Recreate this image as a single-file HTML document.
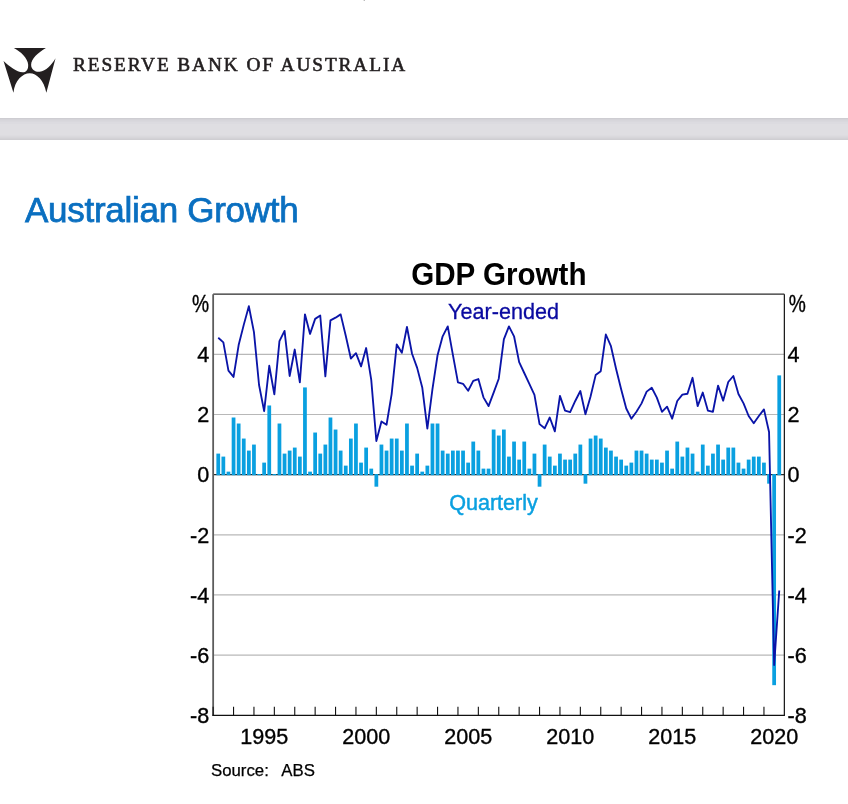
<!DOCTYPE html>
<html><head><meta charset="utf-8"><title>Australian Growth</title>
<style>
html,body{margin:0;padding:0;background:#fff;}
body{width:848px;height:804px;position:relative;overflow:hidden;}
.logo{position:absolute;left:0;top:42px;}
.brand{position:absolute;left:72.5px;top:53px;font-family:"Liberation Serif",serif;font-size:19.3px;letter-spacing:1.92px;color:#231f20;-webkit-text-stroke:0.6px #231f20;white-space:nowrap;line-height:24px;}
.band{position:absolute;left:0;top:118px;width:848px;height:22px;background:linear-gradient(#cecdd2 0px,#cecdd2 1px,#d4d3d8 1px,#d4d3d8 2px,#d7d6db 2px,#d7d6db 3px,#d9d8dd 3px,#d9d8dd 4px,#dcdbe0 4px,#dcdbe0 6px,#dfdee2 6px,#dfdee2 17px,#dddce0 17px,#dddce0 18px,#dad9dd 18px,#dad9dd 19px,#d7d6da 19px,#d7d6da 20px,#d3d2d6 20px,#d3d2d6 21px,#cfced2 21px,#cfced2 22px);}
h1{position:absolute;left:25px;top:187.7px;letter-spacing:-0.28px;-webkit-text-stroke:0.75px #0a6fc0;margin:0;font-family:"Liberation Sans",sans-serif;font-weight:normal;font-size:35px;color:#0a6fc0;white-space:nowrap;line-height:44px;}
.chart{position:absolute;left:0;top:0;will-change:transform;}
.brand,h1{will-change:transform;}
</style></head><body>
<svg class="logo" width="60" height="55" viewBox="0 0 848 777">
<path fill="#231f20" d="M196 83 L649 83 C540 150 440 230 440 320 C440 390 500 425 560 420 C650 410 730 320 785 228 L655 718 C620 540 520 445 420 443 C320 445 210 540 190 718 L50 268 C130 340 240 430 320 428 C380 425 400 380 398 320 C395 230 290 130 196 83 Z"/>
</svg>
<div class="brand">RESERVE BANK OF AUSTRALIA</div>
<div class="band"></div>
<div style="position:absolute;left:363px;top:0;width:1px;height:1px;background:#e6e6e6"></div><div style="position:absolute;left:364px;top:0;width:1px;height:1px;background:#bdbdbd"></div>
<h1>Australian Growth</h1>
<svg class="chart" width="848" height="804" viewBox="0 0 848 804">
<line x1="213.15" y1="354.35" x2="784.35" y2="354.35" stroke="#b8b8b8" stroke-width="1.2"/><line x1="213.15" y1="414.50" x2="784.35" y2="414.50" stroke="#b8b8b8" stroke-width="1.2"/><line x1="213.15" y1="534.80" x2="784.35" y2="534.80" stroke="#b8b8b8" stroke-width="1.2"/><line x1="213.15" y1="594.95" x2="784.35" y2="594.95" stroke="#b8b8b8" stroke-width="1.2"/><line x1="213.15" y1="655.10" x2="784.35" y2="655.10" stroke="#b8b8b8" stroke-width="1.2"/>
<line x1="213.15" y1="474.65" x2="784.35" y2="474.65" stroke="#2a2a2a" stroke-width="1.2"/>
<g fill="#0aa0e0"><rect x="216.38" y="453.60" width="3.75" height="21.65"/><rect x="221.47" y="456.60" width="3.75" height="18.64"/><rect x="226.58" y="471.64" width="3.75" height="3.61"/><rect x="231.68" y="417.51" width="3.75" height="57.74"/><rect x="236.78" y="423.52" width="3.75" height="51.73"/><rect x="241.88" y="438.56" width="3.75" height="36.69"/><rect x="246.97" y="450.59" width="3.75" height="24.66"/><rect x="252.07" y="444.57" width="3.75" height="30.68"/><rect x="257.18" y="474.05" width="3.75" height="1.20"/><rect x="262.27" y="462.62" width="3.75" height="12.63"/><rect x="267.38" y="405.48" width="3.75" height="69.77"/><rect x="272.48" y="474.05" width="3.75" height="1.20"/><rect x="277.57" y="423.52" width="3.75" height="51.73"/><rect x="282.68" y="453.60" width="3.75" height="21.65"/><rect x="287.77" y="450.59" width="3.75" height="24.66"/><rect x="292.88" y="447.58" width="3.75" height="27.67"/><rect x="297.98" y="456.60" width="3.75" height="18.64"/><rect x="303.07" y="387.43" width="3.75" height="87.82"/><rect x="308.18" y="471.64" width="3.75" height="3.61"/><rect x="313.27" y="432.54" width="3.75" height="42.70"/><rect x="318.38" y="453.60" width="3.75" height="21.65"/><rect x="323.48" y="444.57" width="3.75" height="30.68"/><rect x="328.57" y="417.51" width="3.75" height="57.74"/><rect x="333.68" y="429.54" width="3.75" height="45.71"/><rect x="338.77" y="450.59" width="3.75" height="24.66"/><rect x="343.88" y="465.63" width="3.75" height="9.62"/><rect x="348.98" y="438.56" width="3.75" height="36.69"/><rect x="354.07" y="423.52" width="3.75" height="51.73"/><rect x="359.17" y="462.62" width="3.75" height="12.63"/><rect x="364.27" y="447.58" width="3.75" height="27.67"/><rect x="369.38" y="468.63" width="3.75" height="6.62"/><rect x="374.48" y="474.05" width="3.75" height="12.63"/><rect x="379.57" y="444.57" width="3.75" height="30.68"/><rect x="384.67" y="450.59" width="3.75" height="24.66"/><rect x="389.77" y="438.56" width="3.75" height="36.69"/><rect x="394.88" y="438.56" width="3.75" height="36.69"/><rect x="399.98" y="450.59" width="3.75" height="24.66"/><rect x="405.07" y="423.52" width="3.75" height="51.73"/><rect x="410.17" y="465.63" width="3.75" height="9.62"/><rect x="415.27" y="453.60" width="3.75" height="21.65"/><rect x="420.38" y="471.64" width="3.75" height="3.61"/><rect x="425.48" y="465.63" width="3.75" height="9.62"/><rect x="430.57" y="423.52" width="3.75" height="51.73"/><rect x="435.67" y="423.52" width="3.75" height="51.73"/><rect x="440.77" y="450.59" width="3.75" height="24.66"/><rect x="445.88" y="453.60" width="3.75" height="21.65"/><rect x="450.98" y="450.59" width="3.75" height="24.66"/><rect x="456.07" y="450.59" width="3.75" height="24.66"/><rect x="461.17" y="450.59" width="3.75" height="24.66"/><rect x="466.27" y="462.62" width="3.75" height="12.63"/><rect x="471.38" y="441.57" width="3.75" height="33.68"/><rect x="476.48" y="450.59" width="3.75" height="24.66"/><rect x="481.57" y="468.63" width="3.75" height="6.62"/><rect x="486.67" y="468.63" width="3.75" height="6.62"/><rect x="491.77" y="429.54" width="3.75" height="45.71"/><rect x="496.88" y="435.55" width="3.75" height="39.70"/><rect x="501.98" y="429.54" width="3.75" height="45.71"/><rect x="507.07" y="456.60" width="3.75" height="18.64"/><rect x="512.17" y="441.57" width="3.75" height="33.68"/><rect x="517.27" y="459.61" width="3.75" height="15.64"/><rect x="522.38" y="441.57" width="3.75" height="33.68"/><rect x="527.48" y="468.63" width="3.75" height="6.62"/><rect x="532.57" y="453.60" width="3.75" height="21.65"/><rect x="537.67" y="474.05" width="3.75" height="12.63"/><rect x="542.77" y="444.57" width="3.75" height="30.68"/><rect x="547.88" y="456.60" width="3.75" height="18.64"/><rect x="552.98" y="465.63" width="3.75" height="9.62"/><rect x="558.07" y="453.60" width="3.75" height="21.65"/><rect x="563.17" y="459.61" width="3.75" height="15.64"/><rect x="568.27" y="459.61" width="3.75" height="15.64"/><rect x="573.38" y="453.60" width="3.75" height="21.65"/><rect x="578.48" y="444.57" width="3.75" height="30.68"/><rect x="583.57" y="474.05" width="3.75" height="9.62"/><rect x="588.67" y="438.56" width="3.75" height="36.69"/><rect x="593.77" y="435.55" width="3.75" height="39.70"/><rect x="598.88" y="438.56" width="3.75" height="36.69"/><rect x="603.98" y="447.58" width="3.75" height="27.67"/><rect x="609.07" y="450.59" width="3.75" height="24.66"/><rect x="614.17" y="456.60" width="3.75" height="18.64"/><rect x="619.27" y="459.61" width="3.75" height="15.64"/><rect x="624.38" y="465.63" width="3.75" height="9.62"/><rect x="629.48" y="462.62" width="3.75" height="12.63"/><rect x="634.57" y="450.59" width="3.75" height="24.66"/><rect x="639.67" y="450.59" width="3.75" height="24.66"/><rect x="644.77" y="453.60" width="3.75" height="21.65"/><rect x="649.88" y="459.61" width="3.75" height="15.64"/><rect x="654.98" y="459.61" width="3.75" height="15.64"/><rect x="660.07" y="462.62" width="3.75" height="12.63"/><rect x="665.17" y="450.59" width="3.75" height="24.66"/><rect x="670.27" y="468.63" width="3.75" height="6.62"/><rect x="675.38" y="441.57" width="3.75" height="33.68"/><rect x="680.48" y="456.60" width="3.75" height="18.64"/><rect x="685.57" y="447.58" width="3.75" height="27.67"/><rect x="690.67" y="453.60" width="3.75" height="21.65"/><rect x="695.77" y="471.64" width="3.75" height="3.61"/><rect x="700.88" y="444.57" width="3.75" height="30.68"/><rect x="705.98" y="465.63" width="3.75" height="9.62"/><rect x="711.07" y="453.60" width="3.75" height="21.65"/><rect x="716.17" y="444.57" width="3.75" height="30.68"/><rect x="721.27" y="459.61" width="3.75" height="15.64"/><rect x="726.37" y="447.58" width="3.75" height="27.67"/><rect x="731.47" y="447.58" width="3.75" height="27.67"/><rect x="736.57" y="462.62" width="3.75" height="12.63"/><rect x="741.67" y="468.63" width="3.75" height="6.62"/><rect x="746.77" y="459.61" width="3.75" height="15.64"/><rect x="751.87" y="456.60" width="3.75" height="18.64"/><rect x="756.97" y="456.60" width="3.75" height="18.64"/><rect x="762.07" y="462.62" width="3.75" height="12.63"/><rect x="767.17" y="474.05" width="3.75" height="9.62"/><rect x="772.27" y="474.05" width="3.75" height="211.12"/><rect x="777.37" y="375.40" width="3.75" height="99.85"/></g>
<polyline points="218.25,337.81 223.35,342.32 228.45,370.59 233.55,376.91 238.65,345.03 243.75,324.88 248.85,306.23 253.95,332.09 259.05,385.03 264.15,411.19 269.25,365.78 274.35,394.35 279.45,341.12 284.55,330.89 289.65,376.00 294.75,349.54 299.85,382.32 304.95,314.35 310.05,333.90 315.15,318.86 320.25,315.55 325.35,376.30 330.45,320.37 335.55,317.66 340.65,314.35 345.75,335.70 350.85,358.56 355.95,353.15 361.05,366.38 366.15,348.03 371.25,379.91 376.35,440.97 381.45,421.42 386.55,424.73 391.65,394.05 396.75,344.43 401.85,352.85 406.95,326.98 412.05,353.75 417.15,367.88 422.25,387.43 427.35,428.64 432.45,389.24 437.55,355.25 442.65,336.30 447.75,326.38 452.85,354.65 457.95,382.32 463.05,383.82 468.15,390.74 473.25,380.82 478.35,379.01 483.45,397.36 488.55,406.08 493.65,392.55 498.75,378.71 503.85,339.31 508.95,326.38 514.05,336.30 519.15,362.17 524.25,373.00 529.35,383.82 534.45,394.95 539.55,424.12 544.65,428.33 549.75,417.51 554.85,431.34 559.95,395.85 565.05,410.59 570.15,412.09 575.25,400.97 580.35,391.04 585.45,414.20 590.55,396.45 595.65,375.10 600.75,371.19 605.85,334.50 610.95,346.23 616.05,368.79 621.15,389.24 626.25,408.48 631.35,418.71 636.45,411.79 641.55,403.37 646.65,391.64 651.75,387.73 656.85,397.66 661.95,411.79 667.05,406.68 672.15,418.71 677.25,400.97 682.35,394.65 687.45,393.75 692.55,377.81 697.65,406.08 702.75,392.55 707.85,410.59 712.95,411.79 718.05,385.63 723.15,400.67 728.25,382.02 733.35,376.00 738.45,394.05 743.55,403.37 748.65,416.00 753.75,423.22 758.85,416.00 763.95,409.39 769.05,431.94 774.15,665.02 779.25,590.44" fill="none" stroke="#0a14a8" stroke-width="1.85" stroke-linejoin="round"/>
<line x1="213.15" y1="294.20" x2="784.35" y2="294.20" stroke="#2a2a2a" stroke-width="1.3"/><line x1="213.15" y1="294.30" x2="213.15" y2="715.20" stroke="#5c5c5c" stroke-width="1.8"/><line x1="784.35" y1="294.30" x2="784.35" y2="715.20" stroke="#111" stroke-width="1.2"/><line x1="212.25" y1="715.35" x2="784.95" y2="715.35" stroke="#111" stroke-width="1.2"/>
<g stroke="#111" stroke-width="1.1"><line x1="213.15" y1="706.70" x2="213.15" y2="715.20" /><line x1="233.55" y1="706.70" x2="233.55" y2="715.20" /><line x1="253.95" y1="706.70" x2="253.95" y2="715.20" /><line x1="274.35" y1="706.70" x2="274.35" y2="715.20" /><line x1="294.75" y1="706.70" x2="294.75" y2="715.20" /><line x1="315.15" y1="706.70" x2="315.15" y2="715.20" /><line x1="335.55" y1="706.70" x2="335.55" y2="715.20" /><line x1="355.95" y1="706.70" x2="355.95" y2="715.20" /><line x1="376.35" y1="706.70" x2="376.35" y2="715.20" /><line x1="396.75" y1="706.70" x2="396.75" y2="715.20" /><line x1="417.15" y1="706.70" x2="417.15" y2="715.20" /><line x1="437.55" y1="706.70" x2="437.55" y2="715.20" /><line x1="457.95" y1="706.70" x2="457.95" y2="715.20" /><line x1="478.35" y1="706.70" x2="478.35" y2="715.20" /><line x1="498.75" y1="706.70" x2="498.75" y2="715.20" /><line x1="519.15" y1="706.70" x2="519.15" y2="715.20" /><line x1="539.55" y1="706.70" x2="539.55" y2="715.20" /><line x1="559.95" y1="706.70" x2="559.95" y2="715.20" /><line x1="580.35" y1="706.70" x2="580.35" y2="715.20" /><line x1="600.75" y1="706.70" x2="600.75" y2="715.20" /><line x1="621.15" y1="706.70" x2="621.15" y2="715.20" /><line x1="641.55" y1="706.70" x2="641.55" y2="715.20" /><line x1="661.95" y1="706.70" x2="661.95" y2="715.20" /><line x1="682.35" y1="706.70" x2="682.35" y2="715.20" /><line x1="702.75" y1="706.70" x2="702.75" y2="715.20" /><line x1="723.15" y1="706.70" x2="723.15" y2="715.20" /><line x1="743.55" y1="706.70" x2="743.55" y2="715.20" /><line x1="763.95" y1="706.70" x2="763.95" y2="715.20" /></g>
<g font-family="Liberation Sans, sans-serif" font-size="21.6" fill="#000" stroke="#000" stroke-width="0.35"><text transform="translate(209.2 362.08) scale(1 1.04)" text-anchor="end">4</text><text transform="translate(787.5 362.08) scale(1 1.04)">4</text><text transform="translate(209.2 422.23) scale(1 1.04)" text-anchor="end">2</text><text transform="translate(787.5 422.23) scale(1 1.04)">2</text><text transform="translate(209.2 482.38) scale(1 1.04)" text-anchor="end">0</text><text transform="translate(787.5 482.38) scale(1 1.04)">0</text><text transform="translate(209.2 542.53) scale(1 1.04)" text-anchor="end">-2</text><text transform="translate(787.5 542.53) scale(1 1.04)">-2</text><text transform="translate(209.2 602.68) scale(1 1.04)" text-anchor="end">-4</text><text transform="translate(787.5 602.68) scale(1 1.04)">-4</text><text transform="translate(209.2 662.83) scale(1 1.04)" text-anchor="end">-6</text><text transform="translate(787.5 662.83) scale(1 1.04)">-6</text><text transform="translate(209.2 722.98) scale(1 1.04)" text-anchor="end">-8</text><text transform="translate(787.5 722.98) scale(1 1.04)">-8</text><text transform="translate(192.0 312.0) scale(0.89 1.08)">%</text><text transform="translate(788.8 312.0) scale(0.89 1.08)">%</text><text transform="translate(264.15 743.9) scale(1 1.04)" text-anchor="middle">1995</text><text transform="translate(366.15 743.9) scale(1 1.04)" text-anchor="middle">2000</text><text transform="translate(468.15 743.9) scale(1 1.04)" text-anchor="middle">2005</text><text transform="translate(570.15 743.9) scale(1 1.04)" text-anchor="middle">2010</text><text transform="translate(672.15 743.9) scale(1 1.04)" text-anchor="middle">2015</text><text transform="translate(774.15 743.9) scale(1 1.04)" text-anchor="middle">2020</text></g>
<text transform="translate(498.8 285.0) scale(1 1.05)" text-anchor="middle" font-family="Liberation Sans, sans-serif" font-weight="bold" font-size="29.6" fill="#000">GDP Growth</text>
<text transform="translate(503.5 318.9) scale(1 1.04)" text-anchor="middle" font-family="Liberation Sans, sans-serif" font-size="21.6" fill="#0a0aa0" stroke="#0a0aa0" stroke-width="0.3">Year-ended</text>
<text transform="translate(493.5 510.2) scale(1 1.04)" text-anchor="middle" font-family="Liberation Sans, sans-serif" font-size="21.6" fill="#0aa0e0" stroke="#0aa0e0" stroke-width="0.45">Quarterly</text>
<text x="211" y="775.7" font-family="Liberation Sans, sans-serif" font-size="16.8" fill="#000" stroke="#000" stroke-width="0.25">Source:<tspan x="281.3">ABS</tspan></text>
</svg>
</body></html>
